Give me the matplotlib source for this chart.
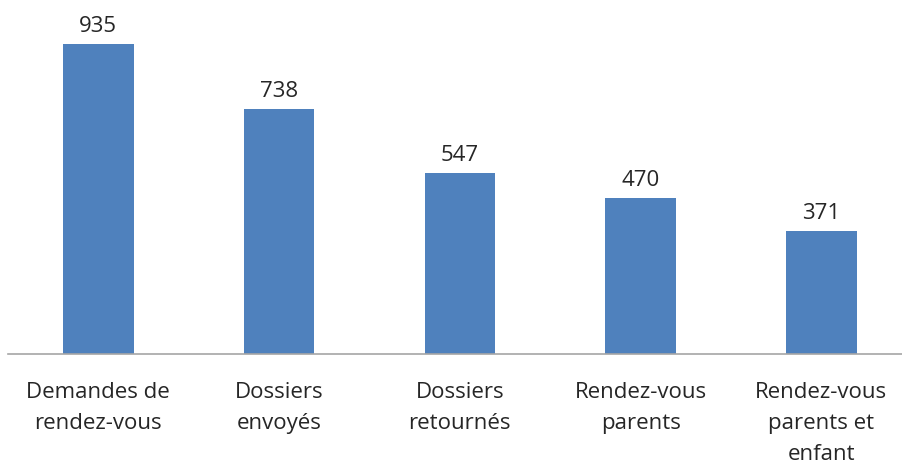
import matplotlib
matplotlib.use("Agg")
import matplotlib.pyplot as plt

# Data
categories = ["Demandes de\nrendez-vous", "Dossiers\nenvoyés", "Dossiers\nretournés",
              "Rendez-vous\nparents", "Rendez-vous\nparents et\nenfant"]
values = [935, 738, 547, 470, 371]

plt.rcParams['font.family'] = ['Open Sans', 'DejaVu Sans']

fig = plt.figure(figsize=(9.03, 4.68), dpi=100)
# axes spans slightly past the right edge, like the original
ax = fig.add_axes([8 / 903, (468 - 354) / 468, 903.75 / 903, 310 / 468])

x = range(len(values))
bars = ax.bar(x, values, width=0.39, color='#4F81BD')
ax.set_xlim(-0.5, len(values) - 0.5)
ax.set_ylim(0, 935)

for xi, v in zip(x, values):
    ax.annotate(str(v), (xi, v), xytext=(0, 5), textcoords='offset points',
                ha='center', va='bottom', fontsize=16, color='#262626',
                annotation_clip=False)

ax.set_xticks(list(x))
ax.set_xticklabels(categories, fontsize=16, color='#262626', linespacing=1.62)
ax.tick_params(axis='x', length=0, pad=20)
ax.set_yticks([])
for s in ['top', 'right', 'left']:
    ax.spines[s].set_visible(False)
ax.spines['bottom'].set_color('#A6A6A6')
ax.spines['bottom'].set_linewidth(1.2)

fig.savefig('out.png', dpi=100)
